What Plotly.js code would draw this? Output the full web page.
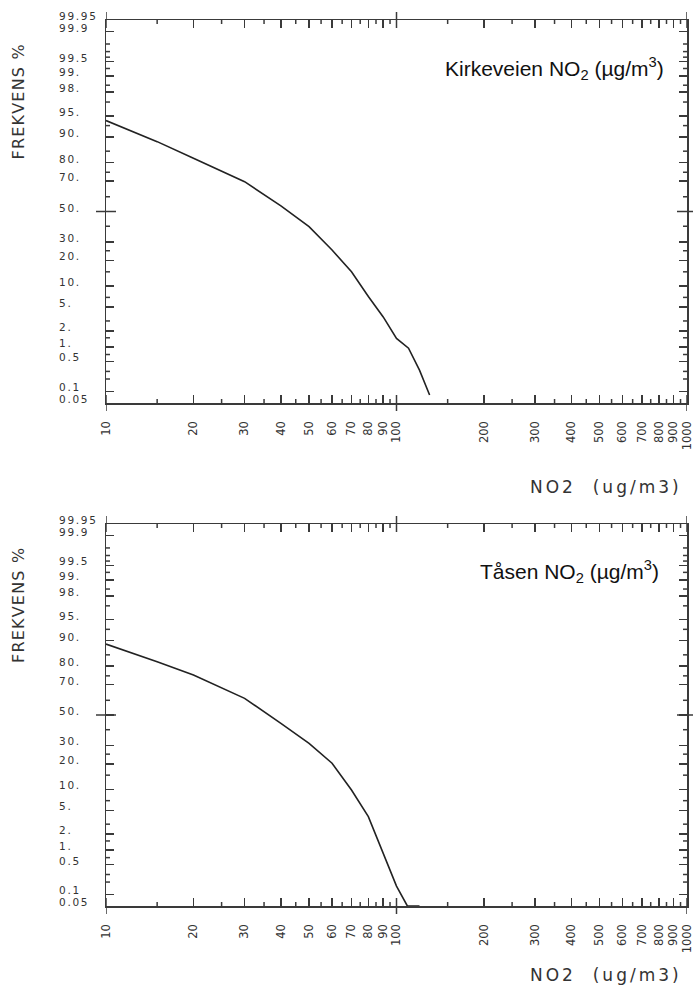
<!DOCTYPE html>
<html>
<head>
<meta charset="utf-8">
<script src="https://cdn.plot.ly/plotly-3.0.1.min.js"></script>
<style>html,body{margin:0;padding:0;background:#fff;}#chart{width:693px;height:993px;}</style>
</head>
<body>
<div id="chart"></div>
<script>
// ---- data ----
const kirkX   = [10, 15, 20, 30, 40, 50, 60, 70, 80, 90, 100, 110, 120, 130];
const kirkPct = [94.1, 88.5, 82.0, 69.6, 53.8, 39.7, 25.4, 15.0, 7.2, 3.5, 1.46, 0.94, 0.32, 0.081];
const tasenX   = [10, 15, 20, 30, 40, 50, 60, 70, 80, 90, 100, 109, 120];
const tasenPct = [88.9, 82.1, 75.5, 61.3, 44.3, 31.3, 20.3, 9.8, 4.0, 0.87, 0.16, 0.05, 0.05];

const panelTitles = ['Kirkeveien NO<sub>2</sub> (µg/m<sup>3</sup>)', 'Tåsen NO<sub>2</sub> (µg/m<sup>3</sup>)'];
const xTitle = 'NO2  (ug/m3)';
const yTitle = 'FREKVENS %';

const xTickVals   = [10, 20, 30, 40, 50, 60, 70, 80, 90, 100, 200, 300, 400, 500, 600, 700, 800, 900, 1000];
const xTickLabels = ['10','20','30','40','50','60','70','80','90','100','200','300','400','500','600','700','800','900','1000'];
const xMinorVals  = [15, 25, 35, 45, 55, 65, 75, 85, 95, 150, 250, 350, 450, 550, 650, 750, 850, 950];

const yTickPct    = [99.95, 99.9, 99.5, 99, 98, 95, 90, 80, 70, 50, 30, 20, 10, 5, 2, 1, 0.5, 0.1, 0.05];
const yTickLabels = ['99.95','99.9','99.5','99.','98.','95.','90.','80.','70.','50.','30.','20.','10.','5.','2.','1.','0.5','0.1','0.05'];
const yMinorPct   = [99.8, 99.7, 99.6, 99.3, 98.5, 97, 93, 85, 75, 60, 40, 25, 15, 7, 3, 1.5, 0.7, 0.3, 0.2];

// ---- probability (probit) scale ----
function probit(p){
  const a=[-3.969683028665376e+01,2.209460984245205e+02,-2.759285104469687e+02,1.383577518672690e+02,-3.066479806614716e+01,2.506628277459239e+00];
  const b=[-5.447609879822406e+01,1.615858368580409e+02,-1.556989798598866e+02,6.680131188771972e+01,-1.328068155288572e+01];
  const c=[-7.784894002430293e-03,-3.223964580411365e-01,-2.400758277161838e+00,-2.549732539343734e+00,4.374664141464968e+00,2.938163982698783e+00];
  const d=[7.784695709041462e-03,3.224671290700398e-01,2.445134137142996e+00,3.754408661907416e+00];
  const plow=0.02425, phigh=1-plow; let q,r;
  if(p<plow){q=Math.sqrt(-2*Math.log(p));return (((((c[0]*q+c[1])*q+c[2])*q+c[3])*q+c[4])*q+c[5])/((((d[0]*q+d[1])*q+d[2])*q+d[3])*q+1);}
  if(p<=phigh){q=p-0.5;r=q*q;return (((((a[0]*r+a[1])*r+a[2])*r+a[3])*r+a[4])*r+a[5])*q/(((((b[0]*r+b[1])*r+b[2])*r+b[3])*r+b[4])*r+1);}
  q=Math.sqrt(-2*Math.log(1-p));return -(((((c[0]*q+c[1])*q+c[2])*q+c[3])*q+c[4])*q+c[5])/((((d[0]*q+d[1])*q+d[2])*q+d[3])*q+1);
}
const z = pct => probit(pct/100);
const spaced = (t, px) => '<span style="letter-spacing:' + px + 'px">' + t + '</span>';

const W = 693, H = 993;
const xDom = [106/W, 687/W];
const yDomTop = [(H-403)/H, (H-20)/H];
const yDomBot = [(H-906)/H, (H-524)/H];
const yRange = [z(0.05), z(99.95)];
const xRange = [1, 3];

const axCol = '#3a3a3a';
const tickFont = {family:'DejaVu Sans, sans-serif', size:10.5, color:'#333'};

function xAxis(anchor){
  return {
    type:'log', range:xRange, domain:xDom, anchor:anchor,
    showline:true, linecolor:axCol, linewidth:1.5, mirror:'ticks',
    ticks:'inside', ticklen:8, tickwidth:1.5, tickcolor:axCol,
    tickmode:'array', tickvals:xTickVals, ticktext:xTickLabels,
    tickangle:-90, tickfont:{family:'DejaVu Sans, sans-serif', size:11.5, color:'#333'},
    ticklabelstandoff:12, ticklabeloverflow:'allow',
    showgrid:false, zeroline:false, fixedrange:true
  };
}
function yAxis(anchor, dom){
  return {
    range:yRange, domain:dom, anchor:anchor,
    showline:true, linecolor:axCol, linewidth:1.5, mirror:'ticks',
    ticks:'inside', ticklen:8, tickwidth:1.5, tickcolor:axCol,
    tickmode:'array', tickvals:yTickPct.map(z), showticklabels:false,
    showgrid:false, zeroline:false, fixedrange:true
  };
}

const traces = [
  {x:kirkX, y:kirkPct.map(z), xaxis:'x', yaxis:'y', mode:'lines', line:{color:'#222', width:1.6}, hoverinfo:'skip'},
  {x:tasenX, y:tasenPct.map(z), xaxis:'x2', yaxis:'y2', mode:'lines', line:{color:'#222', width:1.6}, hoverinfo:'skip'}
];

const annotations = [];
const shapes = [];
const tickLine = {color:axCol, width:1.5};
[['y','x',yDomTop,0,84],['y2','x2',yDomBot,1,69]].forEach(([yr,xr,dom,i,xtOff])=>{
  yTickPct.forEach((v,k)=>{
    annotations.push({xref:'paper', yref:yr, x:57/W, y:z(v), xanchor:'left', yanchor:'middle', yshift:4,
      text:spaced(yTickLabels[k], 1.7), showarrow:false, font:tickFont});
  });
  annotations.push({xref:'paper', yref:'paper', x:18/W, y:(dom[0]+dom[1])/2 + 110/H, textangle:-90,
    xanchor:'center', yanchor:'middle', text:spaced(yTitle, 1.2), showarrow:false,
    font:{family:'DejaVu Sans, sans-serif', size:16, color:'#333'}});
  annotations.push({xref:'paper', yref:'paper', x:(i===0?666:661)/W, y:dom[1] - 48/H, xanchor:'right', yanchor:'middle',
    text:panelTitles[i], showarrow:false, font:{family:'Liberation Sans, Arial, sans-serif', size:21, color:'#111'}});
  annotations.push({xref:'paper', yref:'paper', x:684/W, y:dom[0] - xtOff/H, xanchor:'right', yanchor:'middle',
    text:spaced(xTitle, 3), showarrow:false, font:{family:'DejaVu Sans, sans-serif', size:17, color:'#333'}});
  // minor ticks (short, inside) on bottom/top and left/right
  xMinorVals.forEach(v=>{
    shapes.push({type:'line', xref:xr, yref:'paper', ysizemode:'pixel', yanchor:dom[0], x0:v, x1:v, y0:0, y1:4, line:tickLine});
    shapes.push({type:'line', xref:xr, yref:'paper', ysizemode:'pixel', yanchor:dom[1], x0:v, x1:v, y0:-4, y1:0, line:tickLine});
  });
  yMinorPct.forEach(v=>{
    shapes.push({type:'line', xref:'paper', yref:yr, xsizemode:'pixel', xanchor:xDom[0], x0:0, x1:4, y0:z(v), y1:z(v), line:tickLine});
    shapes.push({type:'line', xref:'paper', yref:yr, xsizemode:'pixel', xanchor:xDom[1], x0:-4, x1:0, y0:z(v), y1:z(v), line:tickLine});
  });
  // long crossing ticks at 10, 100, 1000 (top and bottom) and 50 % (left and right)
  [10,100,1000].forEach(v=>{
    [dom[0],dom[1]].forEach(py=>{
      shapes.push({type:'line', xref:xr, yref:'paper', ysizemode:'pixel', yanchor:py, x0:v, x1:v, y0:-8, y1:8, line:tickLine});
    });
  });
  [xDom[0], xDom[1]].forEach(px=>{
    shapes.push({type:'line', xref:'paper', yref:yr, xsizemode:'pixel', xanchor:px, x0:-10, x1:10, y0:z(50), y1:z(50), line:tickLine});
  });
});

const layout = {
  width:W, height:H, margin:{l:0, r:0, t:0, b:0},
  paper_bgcolor:'#fff', plot_bgcolor:'#fff', showlegend:false,
  xaxis:xAxis('y'), yaxis:yAxis('x', yDomTop),
  xaxis2:xAxis('y2'), yaxis2:yAxis('x2', yDomBot),
  annotations:annotations, shapes:shapes
};

Plotly.newPlot('chart', traces, layout, {staticPlot:true, displayModeBar:false});
</script>
</body>
</html>
